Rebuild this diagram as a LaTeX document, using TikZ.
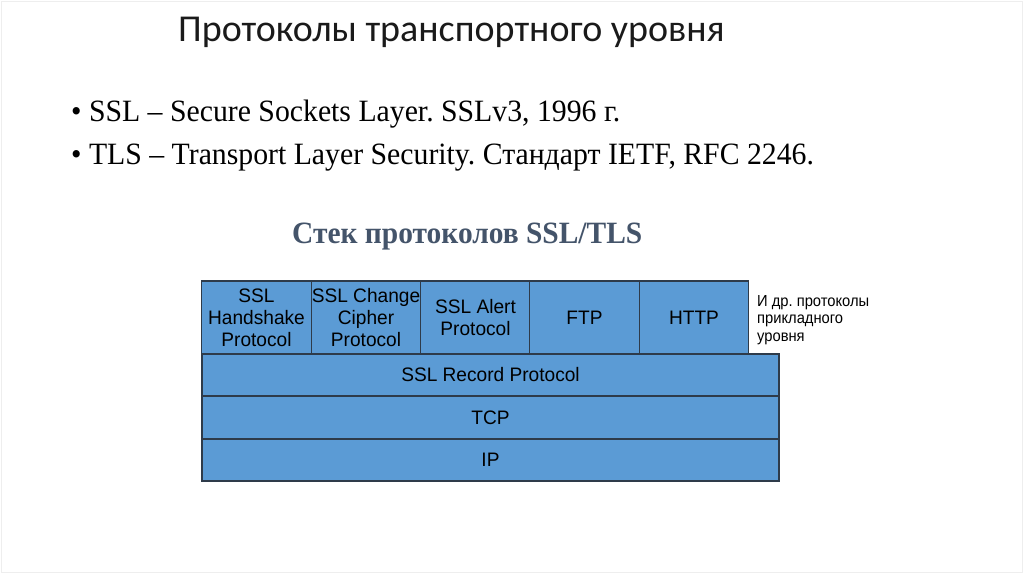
\documentclass[tikz,border=0pt]{standalone}
\usepackage{fontspec}
\setmainfont{Liberation Serif}
\frenchspacing
\newfontfamily\titlefont{Carlito}
\newfontfamily\boxfont[FakeStretch=0.98]{Liberation Sans}
\newfontfamily\notefont[FakeStretch=0.92]{Liberation Sans}
\newfontfamily\bodyfont[FakeStretch=0.96]{Liberation Serif}
\newfontfamily\subfont[FakeStretch=0.95]{Liberation Serif}
\definecolor{boxfill}{HTML}{5B9BD5}
\definecolor{boxline}{HTML}{2E3B4A}
\definecolor{subcol}{HTML}{44546A}
\definecolor{frame}{HTML}{EEEEEE}
\definecolor{titlecol}{HTML}{1A1A1A}
\begin{document}
\begin{tikzpicture}[x=1pt,y=-1pt,
  layer/.style={draw=boxline, fill=boxfill, line width=1.2pt, inner sep=0pt,
    align=center, font=\boxfont\fontsize{19.5}{22}\selectfont, text=black},
  plain/.style={inner sep=0pt, anchor=base west}]
\path[use as bounding box, fill=white] (0,0) rectangle (1024,574);
\draw[frame, line width=1pt] (1,1) rectangle (1022,572);
% title
\node[plain, text=titlecol] (title) at (178,41) {\titlefont\fontsize{38}{42}\selectfont Протоколы транспортного уровня};
% bullets
\node[plain] (b1) at (71,121) {\bodyfont\fontsize{31}{36}\selectfont • SSL – Secure Sockets Layer. SSLv3, 1996 г.};
\node[plain] (b2) at (71,164) {\bodyfont\fontsize{31}{36}\selectfont • TLS – Transport Layer Security. Стандарт IETF, RFC 2246.};
% subtitle
\node[plain, text=subcol] (sub) at (292,243) {\subfont\bfseries\fontsize{31}{36}\selectfont Стек протоколов SSL/TLS};
% top row
\node[layer, minimum width=109.5pt, minimum height=73pt] (hs) at (256.5,317.5) {SSL\\Handshake\\Protocol};
\node[layer, minimum width=109.5pt, minimum height=73pt] (cc) at (366,317.5) {SSL Change\\Cipher\\Protocol};
\node[layer, minimum width=109.5pt, minimum height=73pt] (al) at (475.5,317.5) {SSL Alert\\Protocol};
\node[layer, minimum width=109.5pt, minimum height=73pt] (ftp) at (584.5,317.5) {FTP};
\node[layer, minimum width=109.5pt, minimum height=73pt] (http) at (694,317.5) {HTTP};
% lower layers
\node[layer, minimum width=577pt, minimum height=42pt] (rec) at (490.5,375) {SSL Record Protocol};
\node[layer, minimum width=577pt, minimum height=43pt] (tcp) at (490.5,417.5) {TCP};
\node[layer, minimum width=577pt, minimum height=42pt] (ip) at (490.5,460) {IP};
% note
\node[inner sep=0pt, anchor=north west, align=left, font=\notefont\fontsize{16}{17.5}\selectfont] (note) at (757,295) {И др. протоколы\\прикладного\\уровня};
\end{tikzpicture}
\end{document}
